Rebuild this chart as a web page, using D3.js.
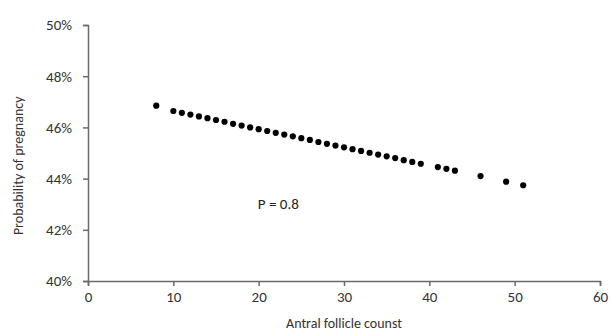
<!DOCTYPE html>
<html>
<head>
<meta charset="utf-8">
<script src="https://cdn.jsdelivr.net/npm/d3@7"></script>
<style>
  body { margin: 0; background: #fff; }
  svg { display: block; font-family: Carlito, "Open Sans", "Liberation Sans", sans-serif; }
</style>
</head>
<body>
<div id="chart"></div>
<script>
// antral follicle count values
const afc = [8, 10, 11, 12, 13, 14, 15, 16, 17, 18, 19, 20, 21, 22, 23, 24, 25, 26, 27, 28, 29,
  30, 31, 32, 33, 34, 35, 36, 37, 38, 39, 41, 42, 43, 46, 49, 51];
// probability of pregnancy (%)
const prob = [46.85, 46.64, 46.57, 46.5, 46.43, 46.36, 46.29, 46.22, 46.14, 46.07, 46.0,
  45.93, 45.86, 45.79, 45.72, 45.65, 45.58, 45.51, 45.43, 45.36, 45.29,
  45.22, 45.15, 45.08, 45.01, 44.94, 44.87, 44.8, 44.72, 44.65, 44.58,
  44.45, 44.38, 44.31, 44.1, 43.88, 43.74];

const xTicks = [0, 10, 20, 30, 40, 50, 60];
const yTicks = [40, 42, 44, 46, 48, 50];

const width = 611;
const height = 333;
const margin = { top: 25, right: 11, bottom: 52, left: 88 };

const svg = d3.select("#chart")
  .append("svg")
  .attr("width", width)
  .attr("height", height);

const x = d3.scaleLinear().domain([0, 60]).range([margin.left, width - margin.right]);
const y = d3.scaleLinear().domain([40, 50]).range([height - margin.bottom, margin.top]);

const axisColor = "#6a6a6a";
const textColor = "#333";
const font = "Carlito, 'Open Sans', 'Liberation Sans', sans-serif";

// x axis
const gx = svg.append("g")
  .attr("transform", `translate(0,${y(40)})`)
  .call(d3.axisBottom(x).tickValues(xTicks).tickSizeOuter(0).tickSize(5).tickPadding(5));

// y axis
const gy = svg.append("g")
  .attr("transform", `translate(${x(0)},0)`)
  .call(d3.axisLeft(y).tickValues(yTicks).tickSizeOuter(0).tickSize(5).tickPadding(11)
    .tickFormat((d) => d + "%"));

[gx, gy].forEach((g) => {
  g.select(".domain").attr("stroke", axisColor).attr("stroke-width", 1.5);
  g.selectAll(".tick line").attr("stroke", axisColor).attr("stroke-width", 1.5);
  g.selectAll(".tick text")
    .attr("fill", textColor)
    .style("font-size", "15px")
    .style("font-family", font);
});

// points
svg.append("g")
  .selectAll("circle")
  .data(afc.map((d, i) => ({ x: d, y: prob[i] })))
  .join("circle")
  .attr("cx", (d) => x(d.x))
  .attr("cy", (d) => y(d.y))
  .attr("r", 3.1)
  .attr("fill", "#000");

// annotation
svg.append("text")
  .attr("x", x(22.3))
  .attr("y", y(42.8))
  .attr("text-anchor", "middle")
  .attr("fill", "#222")
  .style("font-size", "15px")
  .text("P = 0.8");

// axis titles
svg.append("text")
  .attr("x", x(30))
  .attr("y", 328)
  .attr("text-anchor", "middle")
  .attr("fill", textColor)
  .style("font-size", "14px")
  .text("Antral follicle counst");

svg.append("text")
  .attr("transform", `translate(23,${y(44.5)}) rotate(-90)`)
  .attr("text-anchor", "middle")
  .attr("fill", textColor)
  .style("font-size", "14px")
  .text("Probability of pregnancy");
</script>
</body>
</html>
